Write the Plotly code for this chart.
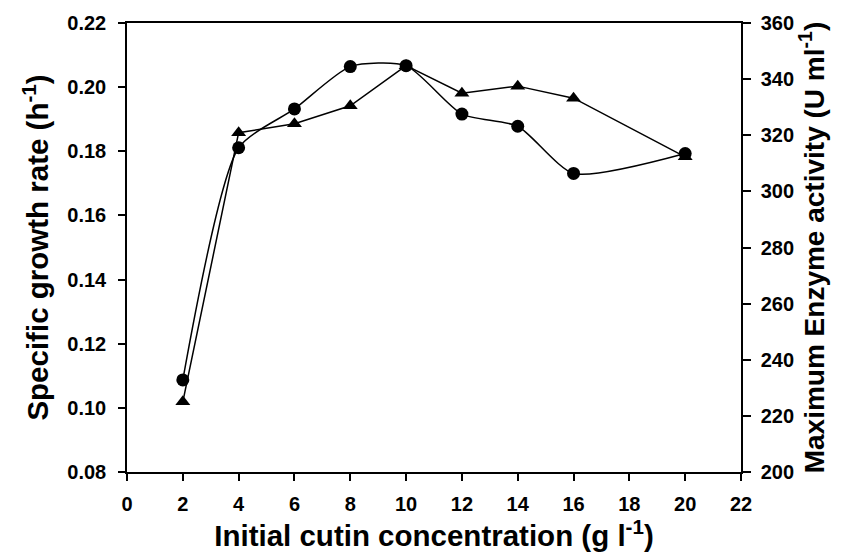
import plotly.graph_objects as go

# Initial cutin concentration (g/l)
conc = [2, 4, 6, 8, 10, 12, 14, 16, 20]
# Specific growth rate (1/h)
growth_rate = [0.1087, 0.1811, 0.1932, 0.2064, 0.2067, 0.1916, 0.1878, 0.1731, 0.1793]
# Maximum enzyme activity (U/ml)
enzyme_activity = [225.0, 320.9, 324.1, 330.5, 344.8, 335.0, 337.5, 333.2, 312.3]

x_ticks = list(range(0, 23, 2))
left_ticks = [0.08, 0.10, 0.12, 0.14, 0.16, 0.18, 0.20, 0.22]
right_ticks = list(range(200, 361, 20))

FONT = "Liberation Sans, Arial, sans-serif"
tick_font = dict(family=FONT, size=20, color="black", weight="bold")
title_font = dict(family=FONT, size=29.5, color="black", weight="bold")
right_title_font = dict(family=FONT, size=28, color="black", weight="bold")

fig = go.Figure()

fig.add_trace(go.Scatter(
    x=conc, y=enzyme_activity, yaxis="y2", mode="lines+markers",
    line=dict(color="black", width=1.5),
    marker=dict(symbol="triangle-up", size=13, color="black"),
    name="Maximum enzyme activity", showlegend=False,
))

fig.add_trace(go.Scatter(
    x=conc, y=growth_rate, mode="lines+markers",
    line=dict(color="black", width=1.5, shape="spline", smoothing=0.65),
    marker=dict(symbol="circle", size=13, color="black"),
    name="Specific growth rate", showlegend=False,
))

fig.update_layout(
    width=844, height=556,
    margin=dict(l=127, r=103, t=18, b=84),
    paper_bgcolor="white", plot_bgcolor="white",
    xaxis=dict(
        range=[0, 22], tickvals=x_ticks, ticktext=[str(v) for v in x_ticks],
        showline=True, linecolor="black", linewidth=1.5, mirror=True,
        ticks="outside", ticklen=7, tickwidth=1.5, tickcolor="black",
        ticklabelstandoff=6,
        showgrid=False, zeroline=False, tickfont=tick_font,
        title=dict(text="Initial cutin concentration (g l<sup>-1</sup>)",
                   font=title_font, standoff=2),
    ),
    yaxis=dict(
        range=[0.08, 0.22], tickvals=left_ticks,
        ticktext=[f"{v:.2f}" for v in left_ticks],
        showline=True, linecolor="black", linewidth=1.5,
        ticks="outside", ticklen=7, tickwidth=1.5, tickcolor="black",
        ticklabelstandoff=8,
        showgrid=False, zeroline=False, tickfont=tick_font,
        title=dict(text="Specific growth rate (h<sup>-1</sup>)",
                   font=title_font, standoff=10),
    ),
    yaxis2=dict(
        range=[200, 360], tickvals=right_ticks,
        ticktext=[str(v) for v in right_ticks],
        overlaying="y", side="right",
        showline=True, linecolor="black", linewidth=1.5,
        ticks="outside", ticklen=8, tickwidth=1.5, tickcolor="black",
        ticklabelstandoff=6,
        showgrid=False, zeroline=False, tickfont=tick_font,
        title=dict(text="Maximum Enzyme activity (U ml<sup>-1</sup>)",
                   font=right_title_font, standoff=9),
    ),
)

fig.write_html("out.html")
